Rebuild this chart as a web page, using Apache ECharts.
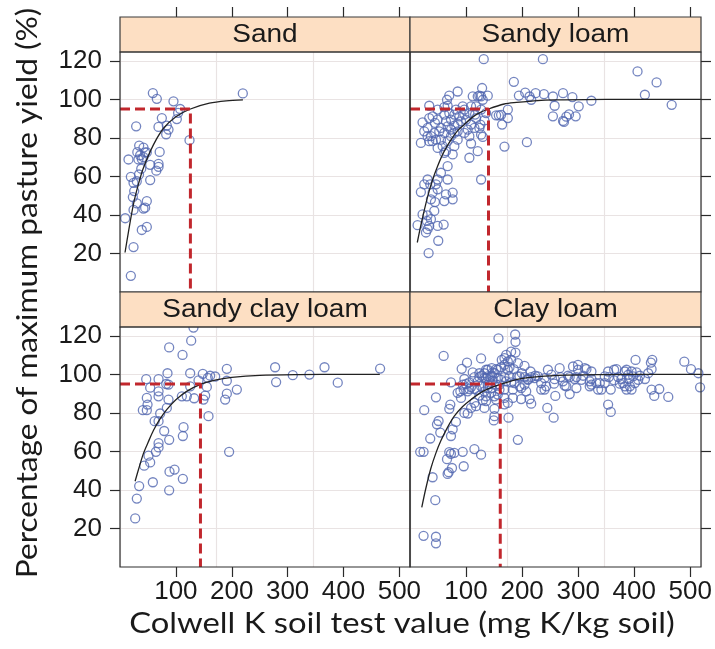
<!DOCTYPE html>
<html><head><meta charset="utf-8">
<script src="https://cdn.jsdelivr.net/npm/echarts@6/dist/echarts.min.js"></script>
<style>html,body{margin:0;padding:0;background:#fff}#c{width:715px;height:649px}</style>
</head><body><div id="c"></div>
<script>
const panels = ['Sand', 'Sandy loam', 'Sandy clay loam', 'Clay loam'];
const xTicks = [100, 200, 300, 400, 500];
const yTicks = [20, 40, 60, 80, 100, 120];
const critK = [126, 140, 144, 161];
const critYield = 95;
const xTitle = 'Colwell K soil test value (mg K/kg soil)';
const yTitle = 'Percentage of maximum pasture yield (%)';

const sandPts = [[58.8,103.3],[65.9,100.3],[95.7,99],[219.8,103.1],[107.7,95],[104,93],[101.7,89.8],[74.9,90.3],[28.9,86],[68.9,85.7],[83.8,86.4],[86.8,84.3],[82.6,81.9],[124.4,78.8],[34.3,76],[31,72.6],[42,75],[45,72.5],[36,71],[39,69],[48,72.5],[71,72.7],[15.2,68.8],[33,68.8],[42,70],[54,66],[69,66.5],[69,65],[65,63],[38,64],[34,61],[54,58.1],[19.4,59.8],[24.2,56.7],[30,57.5],[25.4,52.4],[23,49.3],[30.2,46],[48,47.2],[24.2,42.6],[42,43.3],[45,43.8],[9.3,38.3],[39,32.2],[48,33.8],[24.2,23.3],[19.4,8.4]];

const sandyLoamPts = [[131.5,120.9],[237,120.9],[405.8,114.5],[439.8,108.8],[418.9,102.4],[466.7,97.2],[185.2,109.1],[194.2,102],[205.5,103.5],[213.2,101.5],[224,103.2],[238.9,102.7],[255,101.5],[272.9,103.2],[289.6,101.2],[323.5,99.3],[258,96.7],[300.9,96.4],[283.6,92.2],[278.8,91],[272.9,88.8],[274.6,88.3],[295.5,91.2],[174.5,94.7],[158.4,91.7],[162.5,92],[153.6,91.7],[164.3,86.9],[168.5,75.5],[208.5,77.8],[85,104.1],[70,102],[66,99.8],[111.9,101.6],[123.8,101.9],[128.6,105.9],[138.7,101.9],[120.8,101.6],[34.3,96.7],[61.2,96],[97,94.7],[117.8,96.4],[135.7,92.9],[22.4,88.1],[34.3,90.3],[31.4,85.2],[37.3,80.9],[40.3,78.3],[44.5,87.8],[49.3,89.5],[55.2,85.2],[67.1,86],[73.1,84.3],[79.1,86.4],[85,87.4],[91,88.6],[99.9,89.5],[108.9,86.9],[117.8,90.3],[123.8,85.2],[126.8,81.7],[129.8,80.5],[105.9,80.9],[108.9,77.1],[120.8,73.1],[105.9,69.7],[76.1,71.4],[67.1,65.3],[61.2,72.2],[58.2,75.7],[49.3,58.4],[31.4,58.4],[36.1,55.9],[46.3,55.9],[49.3,53.3],[19.4,51.9],[37.3,48.1],[76.1,51.6],[67.1,58.4],[76.1,48.1],[61.2,47.2],[44.5,46.7],[126.8,58.4],[22.4,40.3],[31.4,39.8],[30.2,36.9],[34.3,34.3],[31.4,32.6],[13.5,34.7],[49.3,34.3],[60,35],[50.4,26.6],[33.2,20.2],[61.2,92.1],[70.1,92.9],[79.1,92.1],[88,91.2],[97,92.1],[73.1,89.5],[64.1,88.6],[52.2,83.4],[61.2,82.6],[79.1,82.6],[85,83.4],[73.1,80.9],[43.3,82.6],[31.4,80.9],[34.3,78.3],[55.2,79.1],[67.1,78.3],[129.8,99.8],[126.8,101.6],[116.1,92.1],
[40.3,91.2],[49.3,94.7],[67.1,96.7],[82,94.7],[94,96.4],[105.9,92.9],[108.9,96.4],[126.8,94.7],[132.7,89.1],[125.6,86.9],[25.4,83.4],[19.4,77.4],[46.3,79.1],[49.3,74.8],[64.1,73.1],[79.1,75.7],[85,79.1],[97,82.6],[102.9,84.3],[114.9,85.2],[25.4,55.9],[55.2,61.9],[40.3,51.6],[64.1,50.7],[43.3,42.1],[37.3,37.8],[28.4,30.9],[254.9,91.2],[216.2,99.8],[174.5,90.3]];

const sandyClayLoamPts = [[131.5,124.3],[127.4,117.5],[88,114],[111.9,110.1],[277.6,103.7],[366,103.7],[465.5,103],[191.2,102.9],[85,100.6],[125.6,100.6],[148.2,100.3],[161.3,99.3],[170.3,98.9],[157.2,98.2],[309.2,99.6],[339,99.9],[46.9,97.5],[69,97.5],[140.5,96.9],[191.2,96.7],[279.4,96],[389.7,95.7],[86.8,94.7],[54,93.1],[125.6,93.8],[155.4,93.5],[209.1,92.1],[69,91.2],[82.7,95],[69,88.6],[48,87.8],[110.7,88.6],[119.6,88.6],[152.4,89],[191.2,90],[188.2,86.9],[132.7,87.6],[86.8,86.9],[149.4,86.9],[83.8,82.6],[49.3,84.3],[40.9,81.4],[48,81.4],[71.9,79.7],[158.4,78.3],[62,75.7],[69,75.7],[79.1,70.6],[113.7,72.6],[112.5,68],[88,66],[69,64.3],[69,62.1],[64.2,59.8],[195.3,59.8],[51,57.8],[54,54.3],[43.3,52.6],[97.6,50.6],[88.6,49.5],[58.8,44],[112.5,45.8],[34.3,42],[88,39.8],[30.1,35.5],[27.2,25.2]];

const clayLoamPts = [[187.6,120.7],[188.2,116.9],[157.8,118.7],[60,109.6],[180.4,111.8],[126.8,108.3],[101.7,106.1],[92.2,102.9],[111.9,101],[97,97.6],[73.1,95.9],[99.9,95],[89.8,91.2],[102.9,91.2],[91,87.8],[46.3,88.1],[119.6,92],[135.7,88.6],[150.6,88.6],[168.5,87.8],[183.4,87.8],[198.3,87.2],[216.2,84.8],[174.5,85.2],[117.8,83.5],[132.7,82.6],[150.6,82.1],[135.7,86.1],[71.9,84.3],[70.1,82.1],[25.4,81.4],[97,80],[102.9,79.7],[150.6,78.3],[149.4,76.1],[175.7,77.5],[51,75.8],[48.1,74.1],[54,69.8],[81.9,75.3],[76.1,71.5],[73.1,68],[36.1,66.7],[192.4,66],[114.9,61.2],[126.8,58.3],[94,59.8],[79,59.3],[73,58.8],[70,59.6],[18.2,59.8],[24.2,59.8],[66,56],[95.8,52.3],[74.9,51.4],[67.1,48.3],[69,49.2],[40.3,46.6],[45.1,34.7],[24.2,16.2],[46.3,15.7],[46.3,12.3],
[246,102.4],[266.9,103.2],[290.8,104.1],[299.7,104.9],[311.7,103.2],[314.7,102.7],[402.3,107.5],[432.1,107.5],[429.7,106.1],[430.9,102.7],[489.3,106.6],[501.2,102.7],[514.4,100.6],[517.4,93.3],[353.4,101.5],[364.1,102.4],[368.3,102.7],[386.2,102.4],[395.2,101.5],[424.9,100.6],[444.6,92.4],[460.7,88.3],[435.7,88.8],[353.4,84.3],[358.1,80.5],[256.2,77.5],[244.9,82.6],[259.2,88.8],[284.8,89.8],[278.9,93.8],[296.8,92.9],[258,97.5],
[132.7,100.6],[138.7,99],[145.9,99.3],[150.6,100.6],[156.6,98.1],[162.5,97.2],[168.5,98.6],[171.5,96.4],[177.5,99],[180.4,95.9],[147.6,96.9],[153.6,94.7],[159.6,92.1],[138.7,92.9],[126.8,93.8],[120.8,96.4],[114.9,98.6],[105.9,95.9],[108.9,93.4],[141.7,95.9],[195.4,99],[204.3,98.6],[216.2,98.6],[195.4,93.8],[186.4,95.5],[132.7,91.2],[144.7,90.4],[129.8,86.5],[156.6,89.5],[168.5,92.1],[159.6,94.7],
[240,98.1],[234,95.5],[228.2,99],[252,99.9],[281.8,99.3],[296.8,98.6],[305.7,97.2],[320.6,96.4],[335.5,92.1],[323.6,94.7],[338.5,95.5],[358.1,92.1],[377.2,97.6],[380.2,95.5],[383.2,93.8],[386.2,92.1],[392.2,93.8],[401.1,95.5],[407.1,97.2],[398.1,99],[389.2,99.8],[371.3,98.6],[347.4,99],[332.5,95.5],[320.6,93.8],[293.7,97.6],[272.9,96.4],[275.9,94.2],[222.2,98.1],[210.3,97.2],[204.3,94.7],[198.3,92.9],[240,92.1],[323.6,97.6],
[188.2,111.3],[171.5,110.1],[168.5,108.4],[174.5,106.7],[180.4,107.5],[192.4,105.8],[204.3,104.4],[185.2,102.7],[174.5,102.4],[162.5,103.7],[153.6,102.7],[147.6,101],[138.7,102.4],[143.5,98.6],[132.7,98.1],[128,99.3],
[123.8,100.6],[135.7,102.4],[145.9,103.2],[156.6,102.4],[163.7,107.5],[168.5,105],[177.5,103.7],[191.2,99],[199.5,100.6],[210.3,97.6],[215,101.5],[223.4,99.3],[138.7,94.7],[123.8,98.6],[114.9,92.4],[123.8,89],[105.9,92.4],[114.9,85.2],[108.9,82.6],[95.8,92.1],[85,90.4],[94,94.7],[135.7,98.1],[145.9,92.9],[153.6,86.9],[168.5,84.4],[183.4,92.1],[207.3,91.2],[213.2,87.2],[234.1,92.1],[243,93.8],[256.8,95.2],[268.7,98.6],[284.8,98.6],[299.7,102.4],[308.7,99.3],[323.6,101.5],[354.6,98.6],[364.1,96.9],[374.2,95.2],[383.2,101.5],[390.4,97.6],[395.2,92.1],[404.1,101],[410.1,99.3],[419.1,97.6],[430.9,92.1],[347.4,95.5],[341.4,92.1]];

const sandCurve = [[9,20.5],[15,31],[24,45.5],[33,56],[42,64.5],[60,76.5],[78,85],[100,91],[126,95],[160,98],[190,99.2],[220,99.7]];
const sandyLoamCurve = [[13,25.7],[20,35.5],[31,49],[40,58],[49,65.2],[60,72.5],[73,79],[85,83.8],[97,87],[110,90.4],[121,92.6],[140,95],[168,97.6],[190,98.4],[228,99.4],[260,99.7],[350,100],[450,100],[519,100]];
const sandyClayLoamCurve = [[27,44.5],[35,52.5],[42,59],[50,64.5],[60,71],[72,77],[84,81.8],[100,86.8],[120,91.3],[144,94.8],[170,97],[200,98.4],[250,99.5],[320,99.9],[400,100],[465,100]];
const clayLoamCurve = [[21,31],[28,40.5],[37,51],[46,59],[55,65.5],[66,72],[79,78.3],[94,83.3],[109,87],[130,91.2],[161,94.8],[198,97.8],[258,99.4],[350,99.9],[450,100],[519,100]];

const allPts = [sandPts, sandyLoamPts, sandyClayLoamPts, clayLoamPts];
const allCurves = [sandCurve, sandyLoamCurve, sandyClayLoamCurve, clayLoamCurve];

const X_MIN = 0, X_MAX = 519, Y_MIN = 0, Y_MAX = 124.6;
const rects = [
  {left:120, top:52, width:290, height:240},
  {left:410, top:52, width:291, height:240},
  {left:120, top:327, width:290, height:240},
  {left:410, top:327, width:291, height:240}
];
const STRIP_H = 35;
const tickFont = 'Liberation Sans';
const axisCol = '#2a2a2a';
const gridCol = '#E9E3E3';

const grid = rects.map(r => ({left:r.left, top:r.top, width:r.width, height:r.height, containLabel:false}));
const xAxis = [], yAxis = [], series = [], graphic = [];

rects.forEach((r, i) => {
  const isTop = i < 2, isLeft = i % 2 === 0;
  xAxis.push({
    gridIndex:i, type:'value', min:X_MIN, max:X_MAX,
    position: isTop ? 'top' : 'bottom', offset: isTop ? STRIP_H : 0,
    axisLine:{show:false, onZero:false},
    axisTick:{show:true, inside:false, length:10, customValues:xTicks, lineStyle:{color:axisCol, width:1.2}},
    axisLabel:{show:!isTop, customValues:xTicks, fontSize:26, fontFamily:tickFont, color:'#1a1a1a', margin:12},
    splitLine:{show:false}
  });
  yAxis.push({
    gridIndex:i, type:'value', min:Y_MIN, max:Y_MAX,
    position: isLeft ? 'left' : 'right',
    axisLine:{show:false, onZero:false},
    axisTick:{show:true, inside:false, length:10, customValues:yTicks, lineStyle:{color:axisCol, width:1.2}},
    axisLabel:{show:isLeft, customValues:yTicks, fontSize:26, fontFamily:tickFont, color:'#1a1a1a', margin:18},
    splitLine:{show:true, lineStyle:{color:gridCol, width:1.2}}
  });
});
// vertical reference grid (panel split in thirds)
rects.forEach((r, i) => {
  xAxis.push({
    gridIndex:i, type:'value', min:0, max:3, interval:1, position:'bottom',
    axisLine:{show:false, onZero:false}, axisTick:{show:false}, axisLabel:{show:false},
    splitLine:{show:true, lineStyle:{color:gridCol, width:1.2}}
  });
});

rects.forEach((r, i) => {
  series.push({
    type:'scatter', xAxisIndex:i, yAxisIndex:i, data:allPts[i],
    symbol:'circle', symbolSize:9,
    itemStyle:{color:'rgba(255,255,255,0)', borderColor:'#5166B0', borderWidth:1.3},
    z:2
  });
  series.push({
    type:'line', xAxisIndex:i, yAxisIndex:i, data:allCurves[i],
    showSymbol:false, smooth:0.3, lineStyle:{color:'#222', width:1.3}, z:3
  });
  series.push({
    type:'line', xAxisIndex:i, yAxisIndex:i,
    data:[[X_MIN, critYield],[critK[i], critYield],[critK[i], Y_MIN]],
    showSymbol:false, lineStyle:{color:'#C1272D', width:3, type:[10,5]}, z:4
  });
  graphic.push({type:'rect', shape:{x:r.left, y:r.top-STRIP_H, width:r.width, height:STRIP_H},
    style:{fill:'#FDDFC3', stroke:'#3a3a3a', lineWidth:1.2}, z:50});
  graphic.push({type:'text', x:r.left + r.width/2, y:r.top - STRIP_H/2 + 1, scaleX:1.12,
    style:{text:panels[i], font:'25px "Liberation Sans"', fill:'#1a1a1a', align:'center', verticalAlign:'middle'}, z:51});
  graphic.push({type:'rect', shape:{x:r.left, y:r.top, width:r.width, height:r.height},
    style:{fill:'none', stroke:'#2e2e2e', lineWidth:1.2}, z:50});
});
graphic.push({type:'text', x:402, y:624, scaleX:1.17,
  style:{text:xTitle, font:'28px "Lato"', fill:'#1a1a1a', align:'center', verticalAlign:'middle'}, z:60});
graphic.push({type:'text', x:28, y:293, rotation:Math.PI/2, scaleX:1.13,
  style:{text:yTitle, font:'28px "Lato"', fill:'#1a1a1a', align:'center', verticalAlign:'middle'}, z:60});

const chart = echarts.init(document.getElementById('c'), null, {renderer:'canvas'});
chart.setOption({animation:false, backgroundColor:'#fff', grid, xAxis, yAxis, series, graphic});
</script></body></html>
